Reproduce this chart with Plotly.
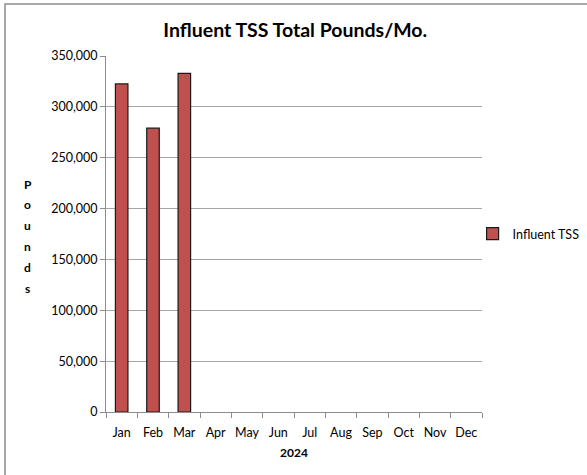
import plotly.graph_objects as go

months = ["Jan", "Feb", "Mar", "Apr", "May", "Jun", "Jul", "Aug", "Sep", "Oct", "Nov", "Dec"]
influent_tss = [322500, 279000, 333000, None, None, None, None, None, None, None, None, None]
y_ticks = [0, 50000, 100000, 150000, 200000, 250000, 300000, 350000]
y_title_letters = ["P", "o", "u", "n", "d", "s"]

font_name = "Lato, Open Sans, sans-serif"

fig = go.Figure()
fig.add_trace(go.Bar(
    x=months, y=influent_tss, name="Influent TSS",
    marker=dict(color="#C0504D", line=dict(color="#1a1a1a", width=1.2)),
))

fig.update_layout(
    width=587, height=475,
    margin=dict(l=106, r=105, t=56, b=63, autoexpand=False),
    paper_bgcolor="white", plot_bgcolor="white",
    font=dict(family=font_name, size=12, color="#000000"),
    bargap=0.6,
    showlegend=True,
    legend=dict(x=0.975, y=0.5, xanchor="left", yanchor="middle",
                font=dict(size=12.5), itemwidth=30, bgcolor="rgba(0,0,0,0)"),
    title=dict(text="<b>Influent TSS Total Pounds/Mo.</b>", x=0.503, xanchor="center",
               y=0.937, yanchor="middle", font=dict(size=19.5)),
)

fig.update_xaxes(
    type="category", categoryarray=months, tickangle=0,
    showline=True, linecolor="#8c8c8c", linewidth=1,
    ticks="outside", tickson="boundaries", ticklen=5, tickcolor="#8c8c8c",
    showgrid=False, automargin=False,
    tickfont=dict(size=12.5), ticklabelstandoff=9,
    title_text="",
)
fig.update_yaxes(
    range=[0, 350000], tickvals=y_ticks, tickformat=",d",
    showline=True, linecolor="#8c8c8c", linewidth=1,
    ticks="outside", ticklen=5, tickcolor="#8c8c8c",
    showgrid=True, gridcolor="#a6a6a6", gridwidth=1,
    zeroline=False, automargin=False,
    tickfont=dict(size=12.5),
)

# stacked vertical axis title, one letter per row
for i, letter in enumerate(y_title_letters):
    fig.add_annotation(
        text="<b>" + letter + "</b>", xref="paper", yref="paper",
        x=-0.208, y=(412 - 184 - i * 20.8) / 356, showarrow=False,
        font=dict(size=12), xanchor="center", yanchor="middle",
    )

# x axis title placed explicitly
fig.add_annotation(
    text="<b>2024</b>", xref="paper", yref="paper",
    x=0.5, y=(412 - 452) / 356, showarrow=False,
    font=dict(size=12), xanchor="center", yanchor="middle",
)

# chart border (left and top edges visible, rest runs off the page)
fig.add_shape(type="rect", xref="paper", yref="paper",
              x0=-0.2686, y0=-0.2, x1=1.4, y1=1.146,
              line=dict(color="#8c8c8c", width=1.5), layer="below")

fig.write_html("out.html", config={"displayModeBar": False},
               post_script="document.body.style.margin='0';")
